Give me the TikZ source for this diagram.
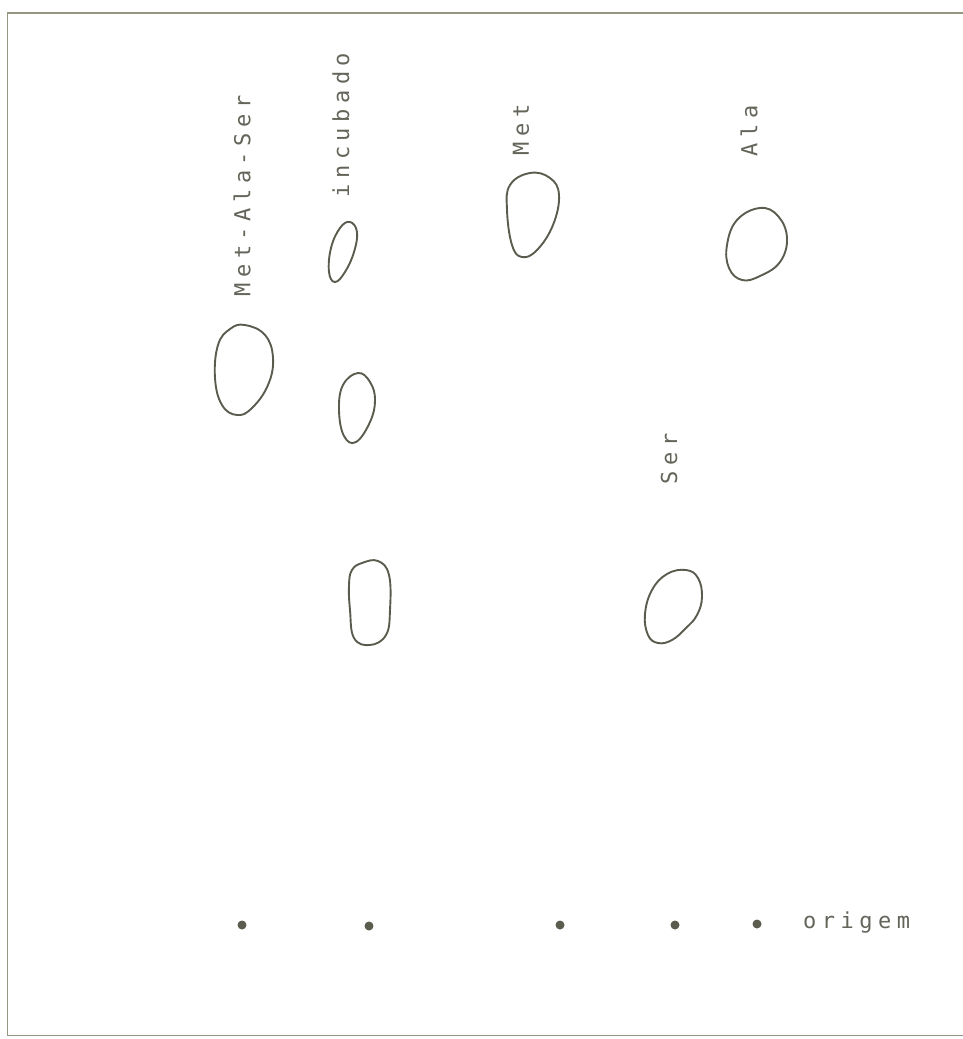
\documentclass[tikz,border=0pt]{standalone}
\usepackage{fontspec}
\newfontfamily\typfont[LetterSpace=25]{DejaVu Sans Mono}
\definecolor{ink}{RGB}{92,92,78}
\definecolor{txt}{RGB}{100,100,90}
\definecolor{frame}{RGB}{150,150,130}
\tikzset{
  spot/.style={draw=ink, line width=1.9pt},
  lbl/.style={text=txt, inner sep=0pt, font=\typfont\fontsize{22}{22}\selectfont},
  origindot/.style={circle, fill=ink, inner sep=0pt, minimum size=9pt},
}
\begin{document}
\begin{tikzpicture}[x=1pt,y=-1pt]
\useasboundingbox (0,0) rectangle (963,1039);
% frame
\draw[frame, line width=1.6pt] (963,13) -- (7,13);
\draw[frame, line width=1pt] (7,13) -- (7,1035) -- (963,1035);
% spots
\draw[spot] plot[smooth cycle, tension=0.7] coordinates {(245,325) (265,335) (273,358) (268,385) (252,408) (237,415) (222,405) (215,378) (218,345) (230,329)};
\draw[spot] plot[smooth cycle, tension=0.7] coordinates {(350,222) (357,232) (354,252) (345,272) (335,282) (329,272) (331,248) (340,228)};
\draw[spot] plot[smooth cycle, tension=0.7] coordinates {(358,373) (370,382) (375,400) (370,422) (356,442) (344,436) (339,410) (343,385)};
\draw[spot] plot[smooth cycle, tension=0.7] coordinates {(362,563) (378,561) (389,575) (390,610) (386,635) (370,645) (354,638) (350,610) (349,585) (352,570)};
\draw[spot] plot[smooth cycle, tension=0.7] coordinates {(530,173) (550,178) (559,195) (553,225) (537,250) (522,257) (512,245) (507,210) (510,185)};
\draw[spot] plot[smooth cycle, tension=0.7] coordinates {(760,208) (778,216) (787,238) (780,262) (760,276) (742,280) (729,268) (727,245) (737,220)};
\draw[spot] plot[smooth cycle, tension=0.7] coordinates {(686,570) (698,578) (702,597) (697,615) (686,628) (672,640) (658,643) (648,635) (645,614) (652,590) (667,574)};
% labels
\node[lbl, rotate=90] (lmas) at (242,196) {Met-Ala-Ser};
\node[lbl, rotate=90] (linc) at (341,125) {incubado};
\node[lbl, rotate=90] (lmet) at (521,130) {Met};
\node[lbl, rotate=90] (lala) at (749,131) {Ala};
\node[lbl, rotate=90] (lser) at (669,459) {Ser};
% origin dots
\node[origindot] (o1) at (242,925) {};
\node[origindot] (o2) at (369,926) {};
\node[origindot] (o3) at (560,925) {};
\node[origindot] (o4) at (675,925) {};
\node[origindot] (o5) at (757,924) {};
\node[lbl, anchor=west] (lorig) at (803,922) {origem};
\end{tikzpicture}
\end{document}
